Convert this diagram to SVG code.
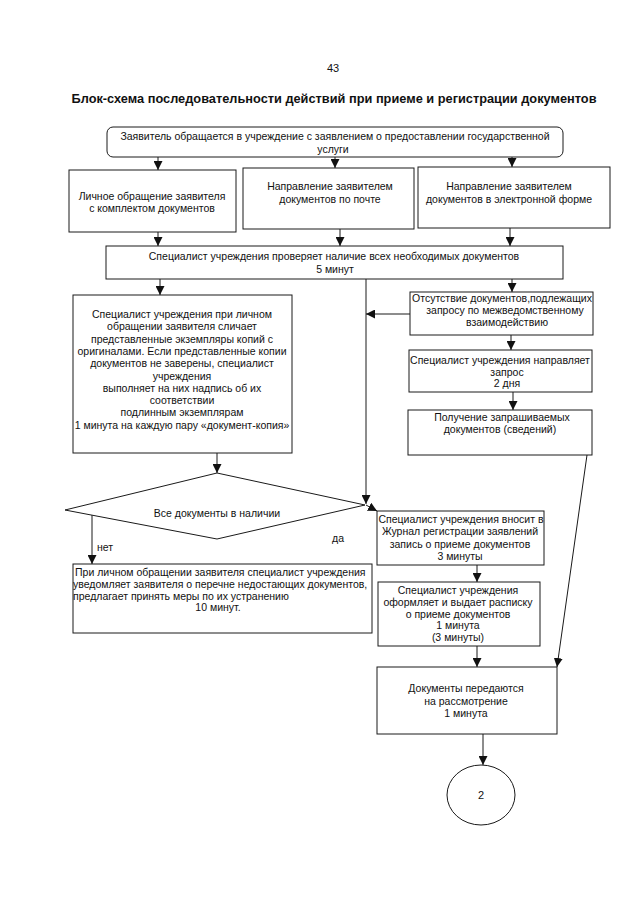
<svg xmlns="http://www.w3.org/2000/svg" width="640" height="905" viewBox="0 0 640 905">
<defs>
<style>
.bg{fill:#fff}
.box{fill:#fff;stroke:#1a1a1a;stroke-width:1}
.t{font-family:"Liberation Sans",Arial,sans-serif;font-size:10.5px;fill:#111;text-anchor:middle}
.l{text-anchor:start}
.title{font-family:"Liberation Sans",Arial,sans-serif;font-size:12.7px;font-weight:bold;fill:#111;text-anchor:middle}
.c{fill:none;stroke:#1a1a1a;stroke-width:1;marker-end:url(#ah)}
.cn{fill:none;stroke:#1a1a1a;stroke-width:1}
</style>
<marker id="ah" viewBox="0 0 10 10" refX="10" refY="5" markerWidth="9" markerHeight="9" markerUnits="userSpaceOnUse" orient="auto">
<path d="M0,0 L10,5 L0,10 z" fill="#111"/>
</marker>
</defs>
<rect class="bg" x="0" y="0" width="640" height="905"/>
<text class="t" x="333" y="72" style="font-size:11px">43</text>
<text class="title" x="334" y="103" textLength="525" lengthAdjust="spacingAndGlyphs">Блок-схема последовательности действий при приеме и регистрации документов</text>

<g id="connectors">
<line class="c" x1="158" y1="157" x2="158" y2="170"/>
<line class="c" x1="335" y1="157" x2="335" y2="168"/>
<line class="c" x1="512" y1="157" x2="512" y2="167"/>
<line class="c" x1="158" y1="232" x2="158" y2="246"/>
<line class="c" x1="340" y1="229" x2="340" y2="246"/>
<line class="c" x1="510" y1="228" x2="510" y2="246"/>
<line class="c" x1="160" y1="279" x2="160" y2="295"/>
<line class="c" x1="512" y1="279" x2="512" y2="292"/>
<line class="c" x1="366" y1="279" x2="366" y2="504"/>
<line class="c" x1="410" y1="314" x2="366" y2="314"/>
<line class="c" x1="511" y1="335" x2="511" y2="350"/>
<line class="c" x1="513" y1="392" x2="513" y2="410"/>
<line class="c" x1="217" y1="453" x2="217" y2="473"/>
<line class="c" x1="366" y1="505" x2="377" y2="511"/>
<line class="c" x1="92" y1="514" x2="92" y2="564"/>
<line class="c" x1="587" y1="455" x2="557" y2="667"/>
<line class="c" x1="477" y1="565" x2="477" y2="582"/>
<line class="c" x1="477" y1="646" x2="477" y2="667"/>
<line class="c" x1="483" y1="734" x2="483" y2="765"/>
<text class="t l" x="97" y="551">нет</text>
<text class="t l" x="332" y="542">да</text>
</g>

<g id="n-start">
<rect class="box" x="107" y="127" width="456" height="30" rx="6"/>
<text class="t" x="335" y="140">Заявитель обращается в учреждение с заявлением о предоставлении государственной</text>
<text class="t" x="333" y="153">услуги</text>
</g>

<g id="n-personal">
<rect class="box" x="69" y="170" width="167" height="62"/>
<text class="t" x="152" y="200">Личное обращение заявителя</text>
<text class="t" x="152" y="212">с комплектом документов</text>
</g>

<g id="n-post">
<rect class="box" x="243" y="168" width="171" height="61"/>
<text class="t" x="330" y="190">Направление заявителем</text>
<text class="t" x="330" y="203">документов по почте</text>
</g>

<g id="n-electronic">
<rect class="box" x="418" y="167" width="192" height="61"/>
<text class="t" x="509" y="190">Направление заявителем</text>
<text class="t" x="509" y="203">документов в электронной форме</text>
</g>

<g id="n-check">
<rect class="box" x="106" y="246" width="457" height="33"/>
<text class="t" x="334" y="260">Специалист учреждения проверяет наличие всех необходимых документов</text>
<text class="t" x="335" y="273">5 минут</text>
</g>

<g id="n-compare">
<rect class="box" x="73" y="295" width="219" height="158"/>
<text class="t" x="182" y="318">Специалист учреждения при личном</text>
<text class="t" x="182" y="330.3">обращении заявителя сличает</text>
<text class="t" x="182" y="342.6">представленные экземпляры копий с</text>
<text class="t" x="182" y="354.9">оригиналами. Если представленные копии</text>
<text class="t" x="182" y="367.2">документов не заверены, специалист</text>
<text class="t" x="182" y="379.5">учреждения</text>
<text class="t" x="182" y="391.8">выполняет на них надпись об их</text>
<text class="t" x="182" y="404.1">соответствии</text>
<text class="t" x="182" y="416.4">подлинным экземплярам</text>
<text class="t" x="182" y="428.7">1 минута на каждую пару «документ-копия»</text>
</g>

<g id="n-missing">
<rect class="box" x="410" y="292" width="183" height="43"/>
<text class="t" x="502" y="302">Отсутствие документов,подлежащих</text>
<text class="t" x="505" y="314">запросу по межведомственному</text>
<text class="t" x="507" y="326">взаимодействию</text>
</g>

<g id="n-request">
<rect class="box" x="409" y="350" width="183" height="42"/>
<text class="t" x="500" y="364">Специалист учреждения направляет</text>
<text class="t" x="507" y="376">запрос</text>
<text class="t" x="507" y="387">2 дня</text>
</g>

<g id="n-receive">
<rect class="box" x="408" y="410" width="184" height="45"/>
<text class="t" x="502" y="421">Получение запрашиваемых</text>
<text class="t" x="500" y="433">документов (сведений)</text>
</g>

<g id="n-decision">
<polygon class="box" points="217,473 365,505 217,539 65,510"/>
<text class="t" x="217" y="517">Все документы в наличии</text>
</g>

<g id="n-notify">
<rect class="box" x="73" y="564" width="299" height="69"/>
<text class="t l" x="75" y="576">При личном обращении заявителя специалист учреждения</text>
<text class="t l" x="73" y="588">уведомляет заявителя о перечне недостающих документов,</text>
<text class="t l" x="73" y="599.5">предлагает принять меры по их устранению</text>
<text class="t" x="218" y="611">10 минут.</text>
</g>

<g id="n-journal">
<rect class="box" x="377" y="511" width="167" height="54"/>
<text class="t" x="461" y="523">Специалист учреждения вносит в</text>
<text class="t" x="460" y="535">Журнал регистрации заявлений</text>
<text class="t" x="460" y="548">запись о приеме документов</text>
<text class="t" x="460" y="560">3 минуты</text>
</g>

<g id="n-receipt">
<rect class="box" x="378" y="582" width="162" height="64"/>
<text class="t" x="458" y="594">Специалист учреждения</text>
<text class="t" x="458" y="606">оформляет и выдает расписку</text>
<text class="t" x="458" y="617.5">о приеме документов</text>
<text class="t" x="458" y="629">1 минута</text>
<text class="t" x="458" y="641">(3 минуты)</text>
</g>

<g id="n-transfer">
<rect class="box" x="377" y="667" width="180" height="67"/>
<text class="t" x="466" y="692">Документы передаются</text>
<text class="t" x="466" y="705">на рассмотрение</text>
<text class="t" x="466" y="717">1 минута</text>
</g>

<g id="n-end">
<ellipse class="box" cx="481" cy="795" rx="34" ry="30"/>
<text class="t" x="481" y="799" style="font-size:11px">2</text>
</g>
</svg>
